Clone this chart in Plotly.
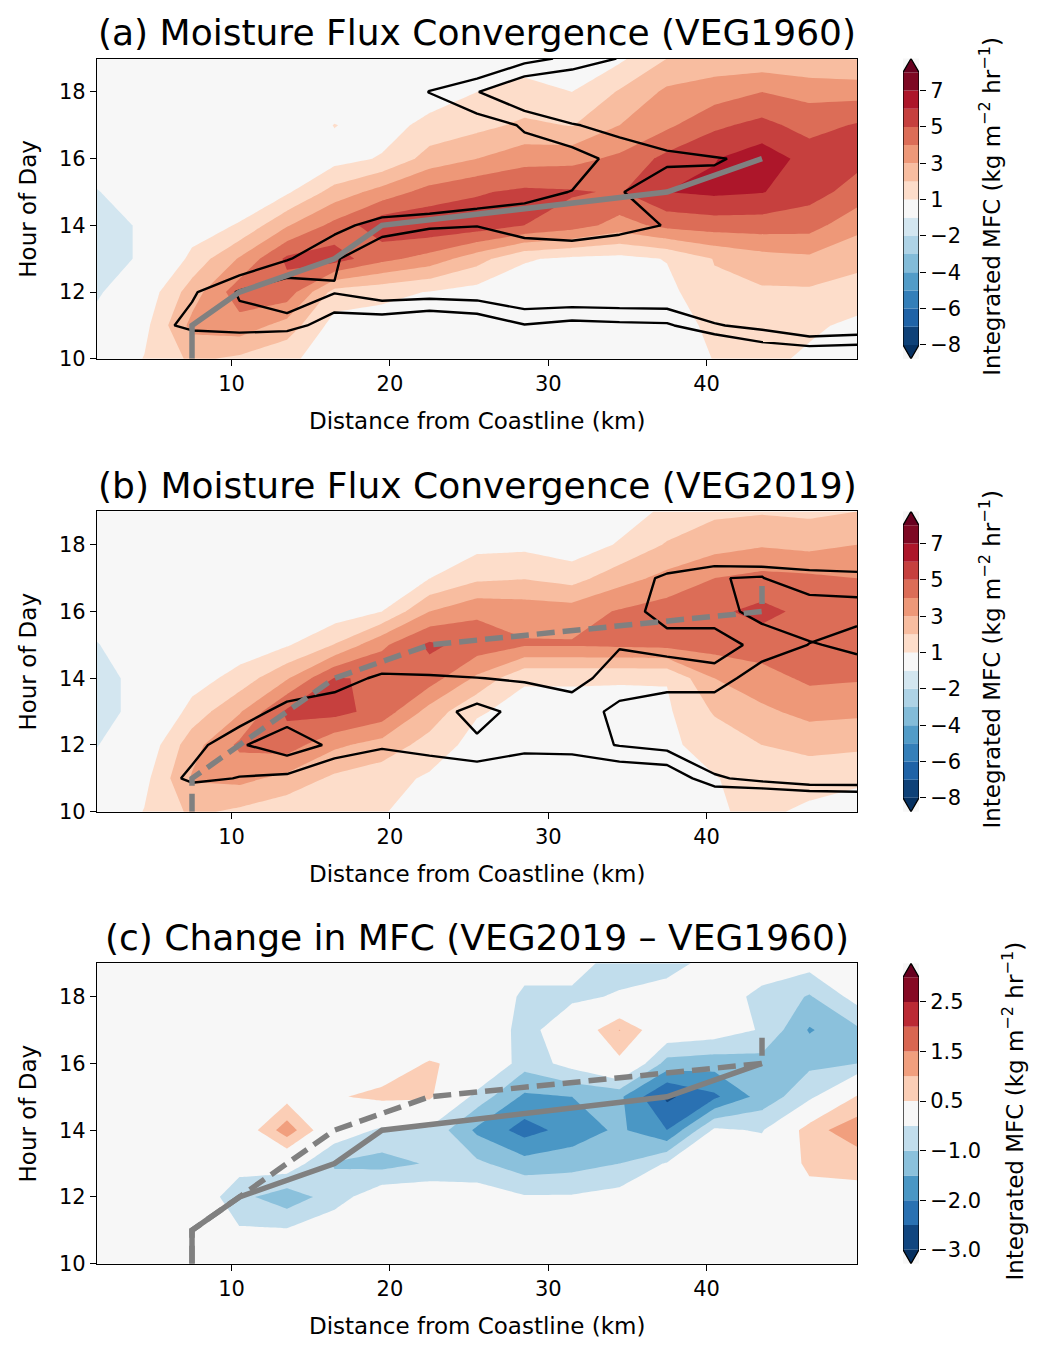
import numpy as np
import plotly.graph_objects as go

# ---------------- data ----------------
distance_km = [1.5, 4.5, 7.5, 10.5, 13.5, 16.5, 19.5, 22.5, 25.5, 28.5,
               31.5, 34.5, 37.5, 40.5, 43.5, 46.5, 49.5]
hours = [10, 11, 12, 13, 14, 15, 16, 17, 18, 19]

# MFC (kg m-2 hr-1); one list per distance column, values for hours 10..19
mfc_veg1960 = [
    [0.0, -0.5, -1.2, -1.6, -1.6, -1.05, -0.5, 0.0, 0.0, 0.0],
    [1.05, 0.7, 0.3, -0.8, -0.8, -0.4, 0.0, 0.0, 0.0, 0.0],
    [2.2, 3.3, 2.5, 1.3, 0.4, 0.0, 0.0, 0.0, 0.0, 0.0],
    [1.8, 3.6, 4.6, 3.1, 1.1, 0.2, 0.0, 0.0, 0.0, 0.0],
    [1.2, 2.6, 4.6, 5.2, 2.9, 0.85, 0.0, 0.0, 0.0, 0.0],
    [0.5, 0.6, 1.6, 5.5, 4.3, 2.4, 0.6, 1.04, 0.2, 0.0],
    [0.2, 0.5, 1.3, 4.3, 5.7, 3.4, 1.1, 0.5, 0.0, 0.0],
    [0.1, 0.4, 0.95, 3.6, 5.8, 4.4, 2.4, 1.35, 0.4, 0.0],
    [0.0, 0.2, 0.6, 2.4, 5.6, 4.9, 3.0, 1.7, 1.0, 0.2],
    [0.0, 0.1, 0.4, 1.1, 5.0, 5.2, 3.6, 2.2, 1.3, 0.6],
    [0.0, 0.1, 0.3, 0.8, 4.5, 5.1, 3.7, 1.95, 1.0, 0.5],
    [0.0, 0.1, 0.3, 0.7, 3.6, 4.9, 4.2, 3.0, 2.1, 0.8],
    [0.2, 0.4, 0.7, 1.05, 4.3, 6.0, 5.3, 3.8, 3.2, 2.0],
    [1.05, 1.3, 1.8, 2.05, 4.5, 6.2, 5.95, 4.8, 3.5, 2.4],
    [1.3, 1.5, 1.85, 2.6, 4.5, 6.05, 6.6, 5.3, 4.0, 2.3],
    [0.8, 1.2, 1.85, 2.8, 4.4, 5.4, 5.6, 4.6, 3.7, 2.05],
    [0.5, 0.75, 1.6, 2.3, 3.3, 4.6, 5.3, 5.1, 3.6, 1.95],
]

mfc_veg2019 = [
    [0.0, -0.4, -1.05, -1.4, -1.4, -1.05, -0.5, 0.0, 0.0, 0.0],
    [1.05, 0.7, 0.2, -0.6, -0.6, -0.3, 0.0, 0.0, 0.0, 0.0],
    [2.2, 3.1, 2.6, 1.4, 0.5, 0.0, 0.0, 0.0, 0.0, 0.0],
    [1.8, 3.3, 4.2, 2.9, 1.4, 0.4, 0.0, 0.0, 0.0, 0.0],
    [1.3, 2.7, 4.5, 5.2, 2.9, 0.9, 0.0, 0.0, 0.0, 0.0],
    [1.2, 1.8, 3.2, 5.35, 5.05, 2.05, 0.4, 0.2, 0.0, 0.0],
    [1.05, 1.4, 2.6, 4.6, 4.9, 3.8, 1.0, 0.4, 0.0, 0.0],
    [0.67, 0.85, 1.6, 2.6, 4.5, 5.2, 3.0, 0.98, 0.3, 0.0],
    [0.4, 0.5, 0.6, 1.1, 2.8, 4.6, 3.8, 1.8, 0.69, 0.2],
    [0.3, 0.4, 0.5, 0.7, 1.1, 4.1, 3.6, 1.95, 0.75, 0.2],
    [0.2, 0.3, 0.4, 0.7, 1.1, 4.1, 3.5, 1.6, 0.4, 0.1],
    [0.1, 0.2, 0.4, 0.8, 1.05, 4.2, 4.1, 2.6, 1.1, 0.5],
    [0.2, 0.5, 0.8, 0.85, 1.05, 4.3, 4.5, 3.3, 2.1, 1.2],
    [0.9, 0.95, 1.4, 2.1, 3.0, 4.4, 4.8, 4.0, 2.6, 1.8],
    [1.2, 1.4, 2.0, 2.8, 3.6, 4.5, 5.3, 4.3, 2.9, 1.9],
    [0.8, 1.4, 2.3, 3.3, 4.2, 4.6, 4.7, 4.2, 2.7, 1.8],
    [0.5, 1.2, 2.2, 3.2, 4.1, 4.5, 4.5, 4.0, 3.0, 2.0],
]

mfc_change = [
    [0.0, 0.0, 0.0, 0.0, 0.0, 0.0, 0.0, 0.0, 0.0, 0.0],
    [0.0, 0.0, 0.0, 0.0, 0.0, 0.0, 0.0, 0.0, 0.0, 0.0],
    [0.0, 0.0, 0.0, 0.0, 0.0, 0.0, 0.0, 0.0, 0.0, 0.0],
    [0.0, -0.45, -0.85, -0.26, 0.0, 0.0, 0.0, 0.0, 0.0, 0.0],
    [0.0, -0.45, -1.3, -0.15, 1.3, 0.3, 0.0, 0.0, 0.0, 0.0],
    [0.0, -0.1, -0.75, -1.05, -0.13, 0.44, 0.0, 0.0, 0.0, 0.0],
    [0.0, 0.0, -0.1, -1.2, -0.6, 0.65, 0.15, 0.0, 0.0, 0.0],
    [0.0, 0.0, -0.1, -0.95, -0.6, 0.6, 0.55, 0.0, 0.0, 0.0],
    [0.0, 0.0, -0.2, -0.9, -1.6, -0.7, 0.32, 0.0, 0.0, 0.0],
    [0.0, -0.1, -0.45, -1.3, -2.2, -1.6, -0.8, -0.7, -0.6, -0.3],
    [0.0, -0.1, -0.45, -1.2, -1.8, -1.5, -0.3, -0.1, -0.6, -0.3],
    [0.0, -0.05, -0.3, -1.0, -1.4, -1.4, 0.35, 1.02, -0.45, -0.7],
    [0.0, 0.0, -0.1, -0.45, -2.0, -2.6, -1.2, -0.06, -0.25, -0.7],
    [0.0, 0.0, 0.0, -0.1, -0.4, -2.1, -1.3, -0.2, -0.3, -0.3],
    [0.0, 0.0, 0.0, 0.0, -0.55, -1.3, -1.2, -0.55, -0.6, -0.3],
    [0.0, 0.0, 0.34, 0.6, 0.8, -0.64, -1.1, -1.55, -1.05, -0.3],
    [0.0, 0.0, 0.3, 0.7, 1.3, 0.55, -1.0, -1.1, -0.3, 0.0],
]

# black-contour fields (contoured at 1 and 2), per distance column, hours 10..19
overlay_veg1960 = [
    [0, 0, 0, 0, 0, 0, 0, 0, 0, 0],
    [0, 0.4, 0, 0, 0, 0, 0, 0, 0, 0],
    [-1.0, 1.35, 0.85, 0, 0, 0, 0, 0, 0, 0],
    [-1.5, 1.69, 2.11, -0.11, 0, 0, 0, 0, 0, 0],
    [-1.5, 1.514, 2.827, 0.904, 0, 0, 0, 0, 0, 0],
    [0, 0.316, 2.07, 1.864, 0.664, 0, 0, 0, 0, 0],
    [0, 0.195, 2.634, 3.04, 1.44, -0.4, 0, 0, 0, 0],
    [-0.5, -0.22, 2.56, 2.9, 1.9, -0.67, 0, 0, 1.034, 0],
    [0, 0.125, 2.625, 2.97, 1.97, 0.03, 0, 0.488, 1.95, -0.425],
    [0, 0.935, 3.11, 2.82, 1.5, 0.742, 0.624, 1.1, 3.19, 0.625],
    [0, 0.625, 3.125, 2.587, 1.5, 1.025, 0.52, 1.92, 3.52, 1.25],
    [0, 0.762, 3.14, 3.03, 1.6, 1.9, 1.367, 2.356, 2.6, 2.054],
    [0, 0.837, 3.16, 3.0, 2.06, 2.9, 1.7, 2.95, 3.0, 2.8],
    [-1.5, 1.9, 3.33, 3.2, 3.0, 2.2, 1.95, 2.95, 3.0, 2.9],
    [-0.35, 2.35, 3.3, 3.2, 3.1, 2.8, 2.14, 2.8, 3.0, 3.0],
    [-0.31, 3.14, 3.3, 3.3, 3.2, 3.0, 2.8, 2.8, 2.9, 2.9],
    [-0.4, 2.93, 3.2, 3.2, 3.2, 3.0, 2.9, 2.9, 2.9, 2.9],
]

overlay_veg2019 = [
    [0, 0, 0, 0, 0, 0, 0, 0, 0, 0],
    [0, 0, 0, 0, 0, 0, 0, 0, 0, 0],
    [-1, 1.3, 0.55, 0, 0, 0, 0, 0, 0, 0],
    [-1, 0.95, 1.892, 0.27, 0, 0, 0, 0, 0, 0],
    [-1, 0.764, 2.58, 1.506, -0.18, 0, 0, 0, 0, 0],
    [-0.5, -0.19, 1.796, 1.5, 0.638, 0, 0, 0, 0, 0],
    [-0.5, -0.5, 1.2, 1.5, 1.155, 0.048, 0, 0, 0, 0],
    [0, 0.36, 1.3, 1.6, 1.1, 0.1, 0, 0, 0, 0],
    [0, 0.158, 1.842, 2.306, 1.02, 0, 0, 0, 0, 0],
    [0, -0.5, 1.5, 1.694, 0.905, 0, 0, 0, 0, 0],
    [0, -0.54, 1.6, 1.5, 0.638, 0, 0, 0, 0, 0],
    [0, -0.053, 2.053, 2.25, 1.474, 0.93, 0.69, 0.7, 0, 0],
    [0, 0.07, 2.396, 2.69, 1.5, 0.73, 1.27, 1.1, 0.386, 0],
    [-1.5, 1.8, 3.34, 2.83, 1.4, 0.511, 1.489, 1.3, 0.467, 0],
    [-2.33, 2.43, 3.0, 3.0, 2.674, 1.326, 1.4, 1.3, 0.418, 0],
    [-2.26, 3.0, 3.0, 3.0, 3.0, 2.03, 1.5, 1.3, 0.05, 0],
    [-2.0, 3.0, 3.0, 3.0, 3.0, 2.636, 1.5, 1.3, -0.28, 0],
]

# second overlay field for VEG2019 (contoured at 1)
overlay2_veg2019 = [
    [0, 0, 0, 0, 0, 0, 0, 0, 0, 0],
    [0, 0, 0, 0, 0, 0, 0, 0, 0, 0],
    [0, 0, 0, 0, 0, 0, 0, 0, 0, 0],
    [0, 0, 0, 0, 0, 0, 0, 0, 0, 0],
    [0, 0, 0, 0, 0, 0, 0, 0, 0, 0],
    [0, 0, 0, 0, 0, 0, 0, 0, 0, 0],
    [0, 0, 0, 0, 0, 0, 0, 0, 0, 0],
    [0, 0, 0, 0, 0, 0, 0, 0, 0, 0],
    [0, 0, 0, 0, 0, 0, 0, 0, 0, 0],
    [0, 0, 0, 0, 0, 0, 0, 0, 0, 0],
    [0, 0, 0, 0, 0, 0, 0, 0, 0, 0],
    [0, 0, 0, 0, 0, 0, 0, 0, 0, 0],
    [0, 0, 0, 0, 0, 0, 0, 0, 0, 0],
    [0, 0, 0, 0, 0, 0, 0, 0.975, 0, 0],
    [0, 0, 0, 0, 0, -0.5, 1.875, 1.05, 0, 0],
    [0, 0, 0, 0, 0, 0.876, 2.0, 0.0, 0, 0],
    [0, 0, 0, 0, 0.14, 1.335, 1.75, 0.0, 0, 0],
]

# ridge (location of max MFC by hour)
ridge1960_hour = [10, 11, 12, 13, 14, 15, 16]
ridge1960_km = [7.5, 7.5, 10.5, 16.5, 19.5, 37.5, 43.5]
ridge2019_hour = [10, 11, 12, 13, 14, 15, 16, 17]
ridge2019_km = [7.5, 7.5, 10.5, 13.5, 16.5, 22.5, 43.5, 43.5]

levels_mfc = [-8, -7, -6, -5, -4, -3, -2, -1, 1, 2, 3, 4, 5, 6, 7, 8]
ticks_mfc = [-8, -6, -4, -2, 1, 3, 5, 7]
ticklabels_mfc = ["\u22128", "\u22126", "\u22124", "\u22122", "1", "3", "5", "7"]
levels_diff = [-3, -2.5, -2, -1.5, -1, -0.5, 0.5, 1, 1.5, 2, 2.5, 3]
ticks_diff = [-3, -2, -1, 0.5, 1.5, 2.5]
ticklabels_diff = ["\u22123.0", "\u22122.0", "\u22121.0", "0.5", "1.5", "2.5"]

titles = ["(a) Moisture Flux Convergence (VEG1960)",
          "(b) Moisture Flux Convergence (VEG2019)",
          "(c) Change in MFC (VEG2019 \u2013 VEG1960)"]

# ---------------- style ----------------
FONT = "DejaVu Sans"
OFF = 8  # default page body margin
W, H = 1039 - 2 * OFF, 1353 - 2 * OFF
RDBU = [(5, 48, 97), (33, 102, 172), (67, 147, 195), (146, 197, 222),
        (209, 229, 240), (247, 247, 247), (253, 219, 199), (244, 165, 130),
        (214, 96, 77), (178, 24, 43), (103, 0, 31)]


def rdbu_r(f):
    f = min(max(f, 0.0), 1.0) * (len(RDBU) - 1)
    i = min(int(f), len(RDBU) - 2)
    t = f - i
    c = [RDBU[i][k] + t * (RDBU[i + 1][k] - RDBU[i][k]) for k in range(3)]
    return "rgb(%d,%d,%d)" % tuple(int(round(v)) for v in c)


def band_colors(levels):
    lo, hi = levels[0], levels[-1]
    return [rdbu_r(((levels[i] + levels[i + 1]) / 2 - lo) / (hi - lo))
            for i in range(len(levels) - 1)]


def px_x(p):
    return (p - OFF) / W


def px_y(p):
    return 1 - (p - OFF) / H


plot_x = [px_x(97), px_x(857)]
panel_top = [59, 516, 972]
panel_bot = [362, 819, 1275]
cb_x = [px_x(903), px_x(919)]

fig = go.Figure()
X = np.array(distance_km)
Y = np.array(hours)


def add_fill(z, levels, xa, ya):
    cols = band_colors(levels)
    under, over = rdbu_r(0), rdbu_r(1)
    n = len(levels)
    neg = [i for i in range(n) if levels[i] < 0]
    pos = [i for i in range(n) if levels[i] > 0]
    for i in pos:
        col = cols[i] if i < n - 1 else over
        fig.add_trace(go.Contour(
            x=X, y=Y, z=z, autocontour=False,
            contours=dict(start=levels[i], end=levels[i], size=1,
                          coloring="fill", showlines=False),
            colorscale=[[0, "rgba(0,0,0,0)"], [1, col]],
            line=dict(width=0, smoothing=0), showscale=False,
            hoverinfo="skip", xaxis=xa, yaxis=ya))
    for i in sorted(neg, reverse=True):
        col = cols[i - 1] if i > 0 else under
        fig.add_trace(go.Contour(
            x=X, y=Y, z=-z, autocontour=False,
            contours=dict(start=-levels[i], end=-levels[i], size=1,
                          coloring="fill", showlines=False),
            colorscale=[[0, "rgba(0,0,0,0)"], [1, col]],
            line=dict(width=0, smoothing=0), showscale=False,
            hoverinfo="skip", xaxis=xa, yaxis=ya))


def add_lines(z, start, end, xa, ya):
    fig.add_trace(go.Contour(
        x=X, y=Y, z=z, autocontour=False,
        contours=dict(start=start, end=end, size=1, coloring="none",
                      showlines=True),
        line=dict(color="black", width=2.4, smoothing=0), showscale=False,
        hoverinfo="skip", xaxis=xa, yaxis=ya))


def add_ridge(hr, km, dashed, xa, ya):
    fig.add_trace(go.Scatter(
        x=km, y=hr, mode="lines",
        line=dict(color="#808080", width=5.5,
                  dash="18px,8px" if dashed else "solid"),
        showlegend=False, hoverinfo="skip", xaxis=xa, yaxis=ya))


def add_colorbar(levels, ticks, xa, ya, tip):
    nb = len(levels) - 1
    cols = band_colors(levels)
    fig.add_trace(go.Bar(
        x=[0] * nb, y=[1] * nb, base=list(range(nb)), width=1,
        marker=dict(color=cols, line=dict(width=0)),
        showlegend=False, hoverinfo="skip", xaxis=xa, yaxis=ya))
    fig.add_trace(go.Scatter(
        x=[-0.5, 0.5, 0, -0.5], y=[nb, nb, nb + tip, nb], fill="toself",
        fillcolor=rdbu_r(1), mode="lines", line=dict(width=0),
        showlegend=False, hoverinfo="skip", xaxis=xa, yaxis=ya))
    fig.add_trace(go.Scatter(
        x=[-0.5, 0.5, 0, -0.5], y=[0, 0, -tip, 0], fill="toself",
        fillcolor=rdbu_r(0), mode="lines", line=dict(width=0),
        showlegend=False, hoverinfo="skip", xaxis=xa, yaxis=ya))
    fig.add_trace(go.Scatter(
        x=[-0.5, -0.5, 0, 0.5, 0.5, 0, -0.5],
        y=[0, nb, nb + tip, nb, 0, -tip, 0], mode="lines",
        line=dict(color="black", width=1.3),
        showlegend=False, hoverinfo="skip", xaxis=xa, yaxis=ya))
    return [levels.index(t) for t in ticks]


panels = [
    (np.array(mfc_veg1960).T, levels_mfc, ticks_mfc, ticklabels_mfc),
    (np.array(mfc_veg2019).T, levels_mfc, ticks_mfc, ticklabels_mfc),
    (np.array(mfc_change).T, levels_diff, ticks_diff, ticklabels_diff),
]

layout = dict(
    width=W, height=H, margin=dict(l=0, r=0, t=0, b=0),
    paper_bgcolor="white", plot_bgcolor="#f7f7f7",
    font=dict(family=FONT, color="black", size=21),
    showlegend=False, barmode="overlay", annotations=[])

axis_common = dict(showline=True, linecolor="black", linewidth=1.3,
                   mirror=True, ticks="outside", ticklen=6, tickwidth=1.3,
                   tickcolor="black", showgrid=False, zeroline=False,
                   tickfont=dict(size=21, family=FONT))

for k, (z, levels, ticks, ticklabels) in enumerate(panels):
    xa = "x" if k == 0 else "x%d" % (k + 1)
    ya = "y" if k == 0 else "y%d" % (k + 1)
    xk = "xaxis" if k == 0 else "xaxis%d" % (k + 1)
    yk = "yaxis" if k == 0 else "yaxis%d" % (k + 1)
    ydom = [px_y(panel_bot[k]), px_y(panel_top[k])]

    add_fill(z, levels, xa, ya)
    if k == 0:
        add_lines(np.array(overlay_veg1960).T, 1, 2, xa, ya)
        add_ridge(ridge1960_hour, ridge1960_km, False, xa, ya)
    elif k == 1:
        add_lines(np.array(overlay_veg2019).T, 1, 2, xa, ya)
        add_lines(np.array(overlay2_veg2019).T, 1, 1, xa, ya)
        add_ridge(ridge2019_hour, ridge2019_km, True, xa, ya)
    else:
        add_ridge(ridge1960_hour, ridge1960_km, False, xa, ya)
        add_ridge(ridge2019_hour, ridge2019_km, True, xa, ya)

    layout[xk] = dict(axis_common, domain=plot_x, range=[1.5, 49.5],
                      tickvals=[10, 20, 30, 40], anchor=ya)
    layout[yk] = dict(axis_common, domain=ydom, range=[10, 19],
                      tickvals=[10, 12, 14, 16, 18], anchor=xa)

    cxa = "x%d" % (k + 4)
    cya = "y%d" % (k + 4)
    nb = len(levels) - 1
    tip = 14.0 / (275.0 / nb)
    tickpos = add_colorbar(levels, ticks, cxa, cya, tip)
    layout["xaxis%d" % (k + 4)] = dict(domain=cb_x, range=[-0.5, 0.5],
                                        visible=False, anchor=cya,
                                        fixedrange=True)
    layout["yaxis%d" % (k + 4)] = dict(
        domain=ydom, range=[-tip, nb + tip], anchor=cxa, side="right",
        tickvals=tickpos, ticktext=ticklabels, ticks="outside", ticklen=6,
        tickwidth=1.3, tickcolor="black", showline=False, showgrid=False,
        zeroline=False, tickfont=dict(size=21, family=FONT))

    cy = (panel_top[k] + panel_bot[k]) / 2
    layout["annotations"] += [
        dict(text=titles[k], x=(plot_x[0] + plot_x[1]) / 2,
             y=px_y(panel_top[k] - 26), xref="paper", yref="paper",
             showarrow=False, xanchor="center", yanchor="middle",
             font=dict(size=36, family=FONT)),
        dict(text="Distance from Coastline (km)",
             x=(plot_x[0] + plot_x[1]) / 2, y=px_y(panel_bot[k] + 63),
             xref="paper", yref="paper", showarrow=False,
             xanchor="center", yanchor="middle",
             font=dict(size=23, family=FONT)),
        dict(text="Hour of Day", x=px_x(28), y=px_y(cy), xref="paper",
             yref="paper", showarrow=False, textangle=-90,
             xanchor="center", yanchor="middle",
             font=dict(size=23, family=FONT)),
        dict(text="Integrated MFC (kg m<sup>\u22122</sup> hr<sup>\u22121</sup>)",
             x=px_x(990 if k < 2 else 1013), y=px_y(cy - 2), xref="paper",
             yref="paper", showarrow=False, textangle=-90,
             xanchor="center", yanchor="middle",
             font=dict(size=23, family=FONT)),
    ]

fig.update_layout(**layout)
fig.write_html("out.html")
